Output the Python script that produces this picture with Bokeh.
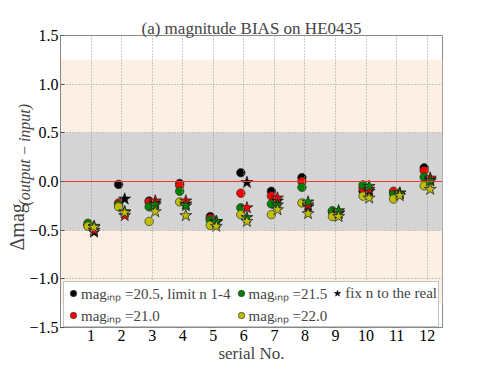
from bokeh.plotting import figure
from bokeh.models import (ColumnDataSource, BoxAnnotation, Span, Legend, LegendItem, Title,
                          Range1d, CustomJSTickFormatter)
from bokeh.transform import dodge
from bokeh.embed import file_html
from bokeh.resources import INLINE

# ---------------- data ----------------
serial = list(range(1, 13))
y_ticks = [-1.5, -1.0, -0.5, 0.0, 0.5, 1.0, 1.5]

# free Sersic n (circles)
free_205 = [-0.45, -0.03, -0.20, -0.02, -0.36, 0.09, -0.10, 0.04, -0.31, -0.10, -0.11, 0.14]
free_210 = [-0.44, -0.22, -0.21, -0.04, -0.38, -0.12, -0.15, 0.00, -0.31, -0.07, -0.10, 0.11]
free_215 = [-0.43, -0.24, -0.26, -0.10, -0.40, -0.27, -0.23, -0.06, -0.30, -0.035, -0.13, 0.045]
free_220 = [-0.46, -0.26, -0.41, -0.21, -0.45, -0.34, -0.34, -0.22, -0.36, -0.15, -0.18, -0.045]

# n fixed to the real value (stars)
fix_205 = [-0.52, -0.18, -0.22, -0.23, -0.42, -0.01, -0.20, -0.26, -0.33, -0.10, -0.12, 0.02]
fix_210 = [-0.50, -0.35, -0.20, -0.20, -0.41, -0.27, -0.17, -0.24, -0.32, -0.08, -0.12, 0.035]
fix_215 = [-0.46, -0.31, -0.24, -0.25, -0.41, -0.37, -0.24, -0.21, -0.30, -0.05, -0.12, 0.005]
fix_220 = [-0.47, -0.32, -0.31, -0.35, -0.46, -0.41, -0.29, -0.33, -0.36, -0.17, -0.145, -0.08]

legend_labels = ["mag\u1d62\u2099\u209a =20.5, limit n 1-4",
                 "mag\u1d62\u2099\u209a =21.0",
                 "mag\u1d62\u2099\u209a =21.5",
                 "mag\u1d62\u2099\u209a =22.0",
                 "fix n to the real"]

colors = ["#000000", "#ff0000", "#008000", "#bfbf00"]
FONT = "Liberation Serif"

src = ColumnDataSource(dict(serial=serial,
                            free_205=free_205, free_210=free_210, free_215=free_215, free_220=free_220,
                            fix_205=fix_205, fix_210=fix_210, fix_215=fix_215, fix_220=fix_220))

p = figure(width=491, height=365, x_range=Range1d(0, 12.5), y_range=Range1d(-1.5, 1.5),
           output_backend="svg", toolbar_location=None,
           min_border_left=60, min_border_right=49, min_border_top=35, min_border_bottom=0)

# title
p.title.text = "(a) magnitude BIAS on HE0435"
p.title.align = "center"
p.title.text_font = FONT
p.title.text_font_style = "normal"
p.title.text_font_size = "17px"
p.title.standoff = -4
p.title.offset = 0

# bands
p.add_layout(BoxAnnotation(bottom=-1.25, top=1.25, fill_color="#fcf0e4", fill_alpha=1.0,
                           line_color=None, level="underlay"))
p.add_layout(BoxAnnotation(bottom=-0.5, top=0.5, fill_color="#d4d4d4", fill_alpha=1.0,
                           line_color=None, level="underlay"))
p.add_layout(Span(location=0, dimension="width", line_color="#ff3030", line_width=1.2,
                  level="glyph"))

# axes
p.xaxis.ticker = serial
p.yaxis.ticker = y_ticks
p.yaxis.formatter = CustomJSTickFormatter(
    code="return (tick < 0 ? '\\u2212' : '') + Math.abs(tick).toFixed(1);")
for ax in (p.xaxis, p.yaxis):
    ax.major_label_text_font = FONT
    ax.major_label_text_font_size = "16px"
    ax.major_label_text_font_style = "normal"
    ax.major_label_text_color = "black"
    ax.axis_line_color = "#888888"
    ax.major_tick_line_color = "#555555"
    ax.major_tick_in = 4
    ax.major_tick_out = 0
    ax.minor_tick_line_color = None
    ax.major_label_standoff = 2
p.xaxis.axis_label = "serial No."
p.xaxis.axis_label_text_font = FONT
p.xaxis.axis_label_text_font_style = "normal"
p.xaxis.axis_label_text_font_size = "17px"
p.xaxis.axis_label_standoff = 0
p.outline_line_color = "#888888"

# grid
for g in (p.xgrid, p.ygrid):
    g.grid_line_color = "#9a9a9a"
    g.grid_line_dash = "1 2"
    g.grid_line_width = 1
    g.level = "glyph"
p.xgrid.ticker = serial

# y-axis label: main text + subscript as two side titles
p.add_layout(Title(text="(output\u2009\u2212\u2009input)", align="left", offset=122, standoff=-12,
                   text_font=FONT, text_font_size="16px", text_font_style="italic"), "left")
p.add_layout(Title(text="\u0394mag", align="left", offset=77, standoff=-16,
                   text_font=FONT, text_font_size="20px", text_font_style="normal"), "left")

# data
renderers_free = []
for col, c in zip(["free_205", "free_210", "free_215", "free_220"], colors):
    r = p.scatter(x=dodge("serial", -0.1), y=col, source=src, marker="circle", size=8.5,
                  fill_color=c, line_color="#333333", line_width=0.7)
    renderers_free.append(r)
renderers_fix = []
for col, c in zip(["fix_205", "fix_210", "fix_215", "fix_220"], colors):
    r = p.scatter(x=dodge("serial", 0.1), y=col, source=src, marker="star", size=12.5,
                  fill_color=c, line_color="#222222", line_width=0.8)
    renderers_fix.append(r)

items = [LegendItem(label=legend_labels[i], renderers=[renderers_free[i]]) for i in range(4)]
items.append(LegendItem(label=legend_labels[4], renderers=[renderers_fix[0]]))
legend = Legend(items=items, location=(3, 0), orientation="vertical", nrows=2,
                border_line_color="#888888", border_line_width=1,
                background_fill_color="white", background_fill_alpha=1.0,
                label_text_font=FONT, label_text_font_size="15px", label_text_font_style="normal",
                padding=1, spacing=2, margin=0, glyph_width=16, glyph_height=18,
                label_height=18, label_standoff=0)
p.add_layout(legend)

open("out.html", "w").write(file_html(p, INLINE))
